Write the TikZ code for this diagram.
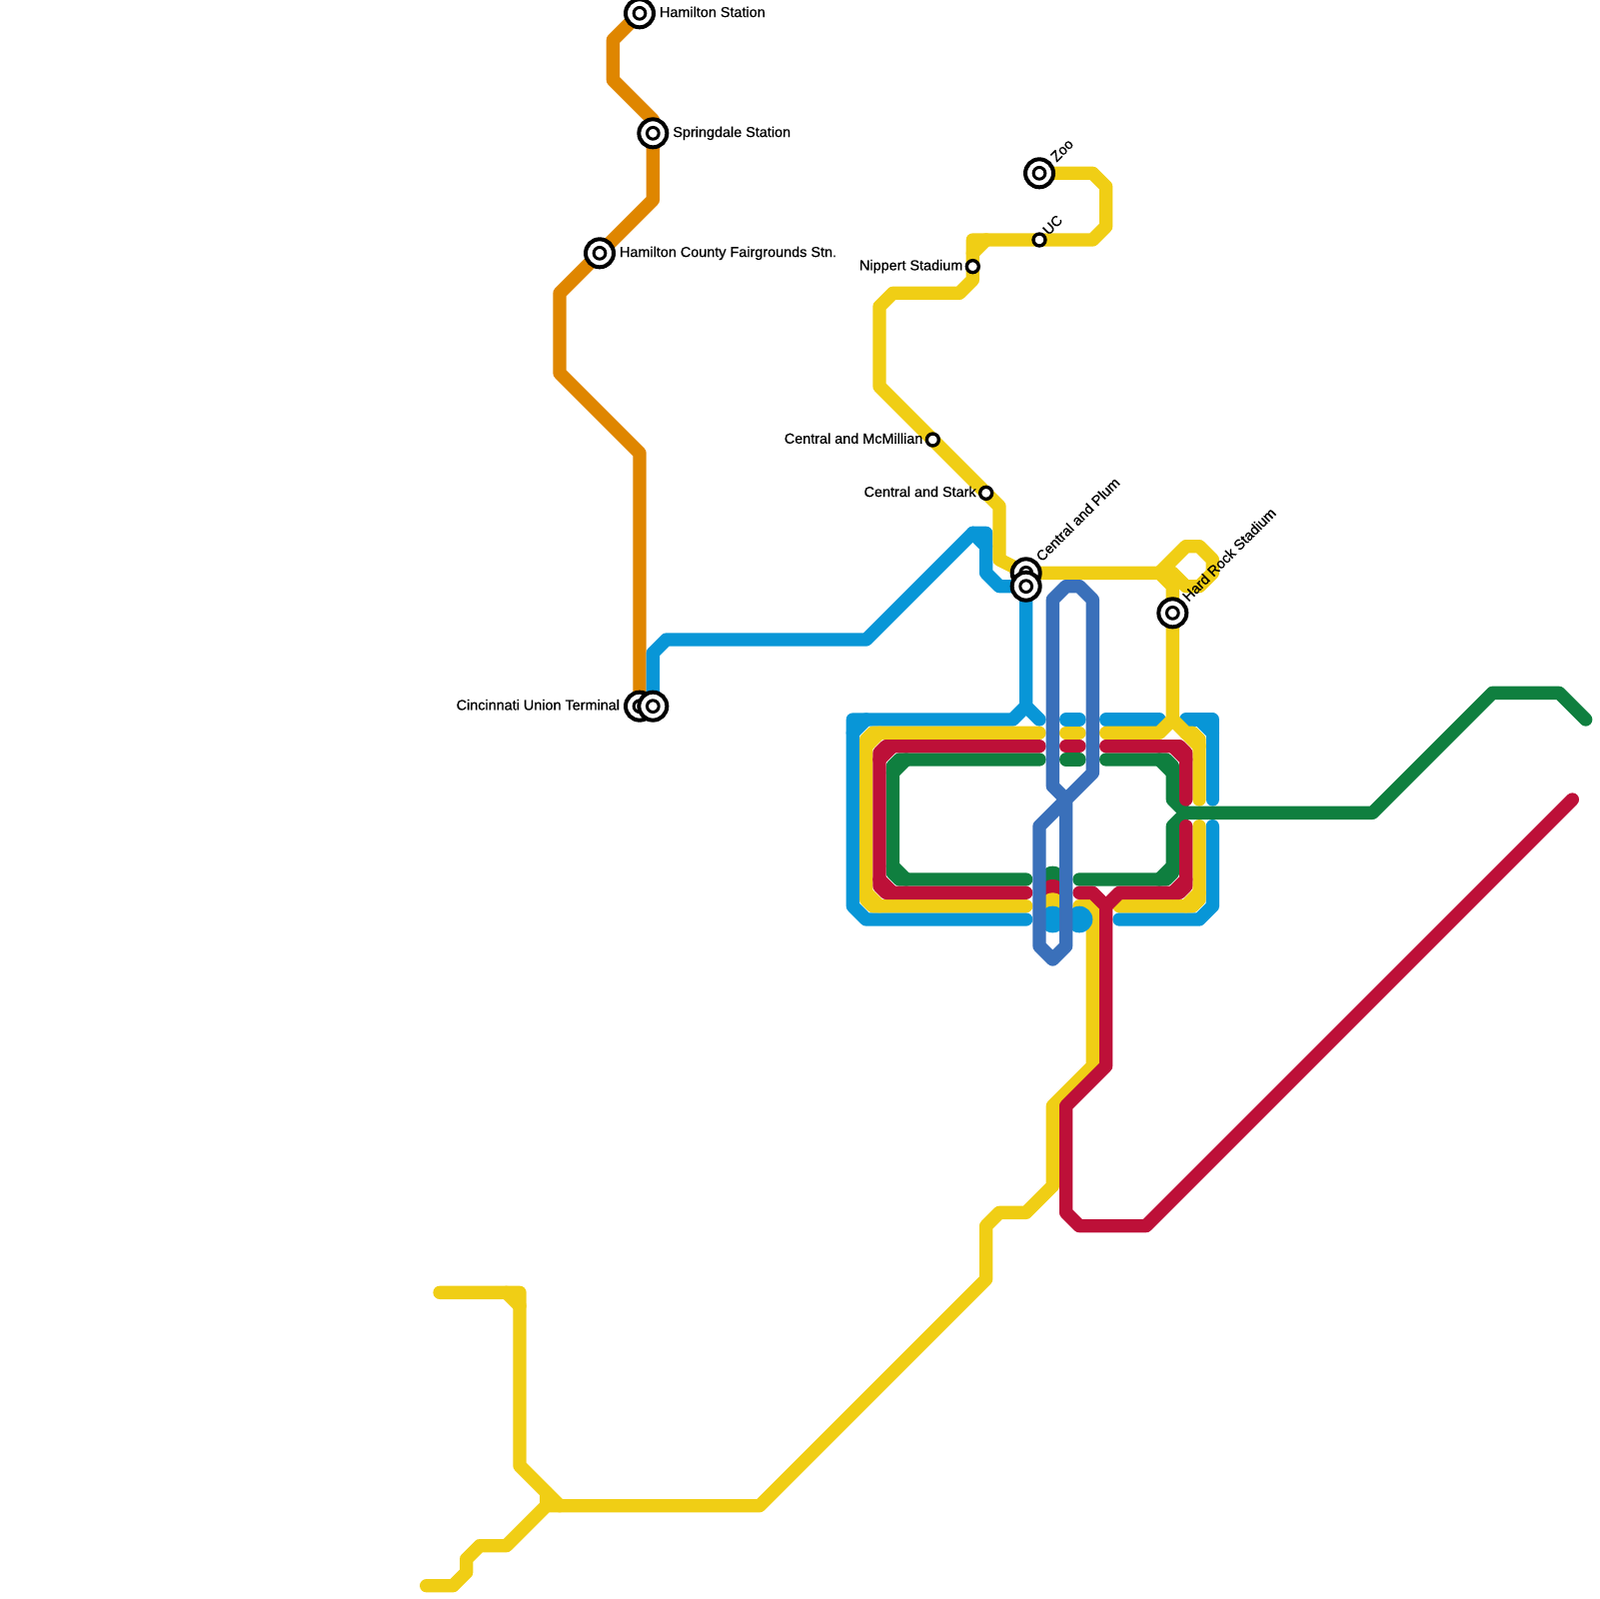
\documentclass[tikz,border=0pt]{standalone}
\usepackage{fontspec}
\setmainfont{Liberation Sans}[FakeBold=0.5]
\usetikzlibrary{positioning}
\definecolor{orangeline}{HTML}{DF8600}
\definecolor{blueline}{HTML}{0896D7}
\definecolor{yellowline}{HTML}{F0CE15}
\definecolor{redline}{HTML}{BD1038}
\definecolor{greenline}{HTML}{0F7F3F}
\definecolor{loopline}{HTML}{3A70BA}
\begin{document}
\begin{tikzpicture}[
  x=2mm, y=-2mm,
  metro/.style={line width=2mm, line join=round, line cap=round},
  bigstop/.style={circle, draw=black, fill=white, line width=0.6mm, minimum size=4.2mm, inner sep=0pt, outer sep=0pt,
    path picture={\draw[line width=0.45mm] (path picture bounding box.center) circle (0.88mm);}},
  smallstop/.style={circle, draw=black, fill=white, line width=0.5mm, minimum size=1.8mm, inner sep=0pt, outer sep=0pt},
  stoptext/.style={font=\fontsize{6.15}{7}\selectfont, inner sep=0pt, outer sep=0pt, text height=4.5pt, text depth=1.3pt},
  tilttext/.style={stoptext, rotate=45, anchor=west},
  node distance=0.9mm
]
  \useasboundingbox (0,0) rectangle (120,120);

  \coordinate (hamilton) at (48,1);
  \coordinate (springdale) at (49,10);
  \coordinate (fairgrounds) at (45,19);
  \coordinate (unionA) at (48,53);
  \coordinate (unionB) at (49,53);
  \coordinate (zoo) at (78,13);
  \coordinate (uc) at (78,18);
  \coordinate (nippert) at (73,20);
  \coordinate (mcmillian) at (70,33);
  \coordinate (stark) at (74,37);
  \coordinate (plumA) at (77,43);
  \coordinate (plumB) at (77,44);
  \coordinate (hardrock) at (88,46);

  \draw[metro, orangeline] (hamilton) -- (46,3) -- (46,6) -- (49,9) -- (springdale) -- (49,15) -- (fairgrounds) -- (42,22) -- (42,28) -- (48,34) -- (unionA);

  \draw[metro, blueline] (unionB) -- (49,49) -- (50,48) -- (65,48) -- (73,40) -- (74,40) -- (74,43) -- (75,44) -- (plumB) -- (77,53) -- (78,54);
  \draw[metro, blueline] (73,40) -- (74,41);
  \draw[metro, blueline] (77,53) -- (76,54) -- (64,54) -- (64,68) -- (65,69) -- (77,69);
  \draw[metro, blueline] (65,54) -- (64,55);
  \draw[metro, blueline] (80,54) -- (81,54);
  \draw[metro, blueline] (83,54) -- (87,54);
  \draw[metro, blueline] (89,54) -- (91,54) -- (91,60);
  \draw[metro, blueline] (90,54) -- (91,55);
  \draw[metro, blueline] (91,62) -- (91,68) -- (90,69) -- (84,69);

  \draw[metro, yellowline] (zoo) -- (82,13) -- (83,14) -- (83,17) -- (82,18) -- (73,18) -- (nippert) -- (73,21) -- (72,22) -- (67,22) -- (66,23) -- (66,29) -- (stark) -- (75,38) -- (75,42) -- (plumA) -- (87,43) -- (88,44) -- (hardrock) -- (88,54) -- (89,55) -- (89.5,55) -- (90,55.5) -- (90,60);
  \draw[metro, yellowline] (74,18) -- (73,19);
  \draw[metro, yellowline] (87,43) -- (88,42) -- (89,41) -- (90,41) -- (91,42) -- (91,43) -- (90,44) -- (89,44) -- (88,43) -- cycle;
  \draw[metro, yellowline] (83,55) -- (87,55) -- (88,54);
  \draw[metro, yellowline] (89,55) -- (90,56);
  \draw[metro, yellowline] (80,55) -- (81,55);
  \draw[metro, yellowline] (78,55) -- (65.5,55) -- (65,55.5) -- (65,67.5) -- (65.5,68) -- (77,68);
  \draw[metro, yellowline] (66,55) -- (65,56);
  \draw[metro, yellowline] (65,67) -- (66,68);
  \draw[metro, yellowline] (90,62) -- (90,67.5) -- (89.5,68) -- (84,68);
  \draw[metro, yellowline] (90,67) -- (89,68);
  \draw[metro, yellowline] (81,68) -- (82,68) -- (82,80) -- (79,83) -- (79,89) -- (77,91) -- (75,91) -- (74,92) -- (74,96) -- (57,113) -- (41,113) -- (38,116) -- (36,116) -- (35,117) -- (35,118) -- (34,119) -- (32,119);
  \draw[metro, yellowline] (33,97) -- (39,97) -- (39,110) -- (41,112) -- (42,113);
  \draw[metro, yellowline] (38,97) -- (39,98);
  \draw[metro, yellowline] (41,112) -- (41,113);

  \draw[metro, greenline] (78,57) -- (67.5,57) -- (67,57.5) -- (67,65.5) -- (67.5,66) -- (77,66);
  \draw[metro, greenline] (68,57) -- (67,58);
  \draw[metro, greenline] (67,65) -- (68,66);
  \draw[metro, greenline] (80,57) -- (81,57);
  \draw[metro, greenline] (83,57) -- (87.5,57) -- (88,57.5) -- (88,60) -- (89,61) -- (103,61) -- (112,52) -- (117,52) -- (119,54);
  \draw[metro, greenline] (87,57) -- (88,58);
  \draw[metro, greenline] (89,61) -- (88,62) -- (88,65.5) -- (87.5,66) -- (81,66);
  \draw[metro, greenline] (88,65) -- (87,66);

  \draw[metro, redline] (78,56) -- (66.5,56) -- (66,56.5) -- (66,66.5) -- (66.5,67) -- (77,67);
  \draw[metro, redline] (67,56) -- (66,57);
  \draw[metro, redline] (66,66) -- (67,67);
  \draw[metro, redline] (80,56) -- (81,56);
  \draw[metro, redline] (83,56) -- (88.5,56) -- (89,56.5) -- (89,60);
  \draw[metro, redline] (88,56) -- (89,57);
  \draw[metro, redline] (89,62) -- (89,66.5) -- (88.5,67) -- (84,67) -- (83,68);
  \draw[metro, redline] (89,66) -- (88,67);
  \draw[metro, redline] (81,67) -- (82,67) -- (83,68) -- (83,80) -- (80,83) -- (80,91) -- (81,92) -- (86,92) -- (118,60);

  \fill[greenline] (79,66) circle (1);
  \fill[redline] (79,67) circle (1);
  \fill[yellowline] (79,68) circle (1);
  \fill[blueline] (79,69) circle (1);
  \fill[blueline] (81,69) circle (1);

  \draw[metro, loopline] (79,45) -- (80,44) -- (81,44) -- (82,45) -- (82,58) -- (78,62) -- (78,71) -- (79,72) -- (80,71) -- (80,60) -- (79,59) -- cycle;

  \node[bigstop] (hamilton stop) at (hamilton) {};
  \node[bigstop] (springdale stop) at (springdale) {};
  \node[bigstop] (fairgrounds stop) at (fairgrounds) {};
  \node[bigstop] (unionA stop) at (unionA) {};
  \node[bigstop] (unionB stop) at (unionB) {};
  \node[bigstop] (zoo stop) at (zoo) {};
  \node[smallstop] (uc stop) at (uc) {};
  \node[smallstop] (nippert stop) at (nippert) {};
  \node[smallstop] (mcmillian stop) at (mcmillian) {};
  \node[smallstop] (stark stop) at (stark) {};
  \node[bigstop] (plumA stop) at (plumA) {};
  \node[bigstop] (plumB stop) at (plumB) {};
  \node[bigstop] (hardrock stop) at (hardrock) {};

  \node[stoptext, right=of hamilton stop] (hamilton text) {Hamilton Station};
  \node[stoptext, right=of springdale stop] (springdale text) {Springdale Station};
  \node[stoptext, right=of fairgrounds stop] (fairgrounds text) {Hamilton County Fairgrounds Stn.};
  \node[stoptext, left=of unionA stop] (union text) {Cincinnati Union Terminal};
  \node[stoptext, left=0.6mm of nippert stop] (nippert text) {Nippert Stadium};
  \node[stoptext, left=0.6mm of mcmillian stop] (mcmillian text) {Central and McMillian};
  \node[stoptext, left=0.6mm of stark stop] (stark text) {Central and Stark};
  \node[tilttext] (zoo text) at ([shift={(1.1,-1)}]zoo) {Zoo};
  \node[tilttext] (uc text) at ([shift={(0.5,-0.5)}]uc) {UC};
  \node[tilttext] (plum text) at ([shift={(1,-1)}]plumA) {Central and Plum};
  \node[tilttext] (hardrock text) at ([shift={(1,-1)}]hardrock) {Hard Rock Stadium};
\end{tikzpicture}
\end{document}
